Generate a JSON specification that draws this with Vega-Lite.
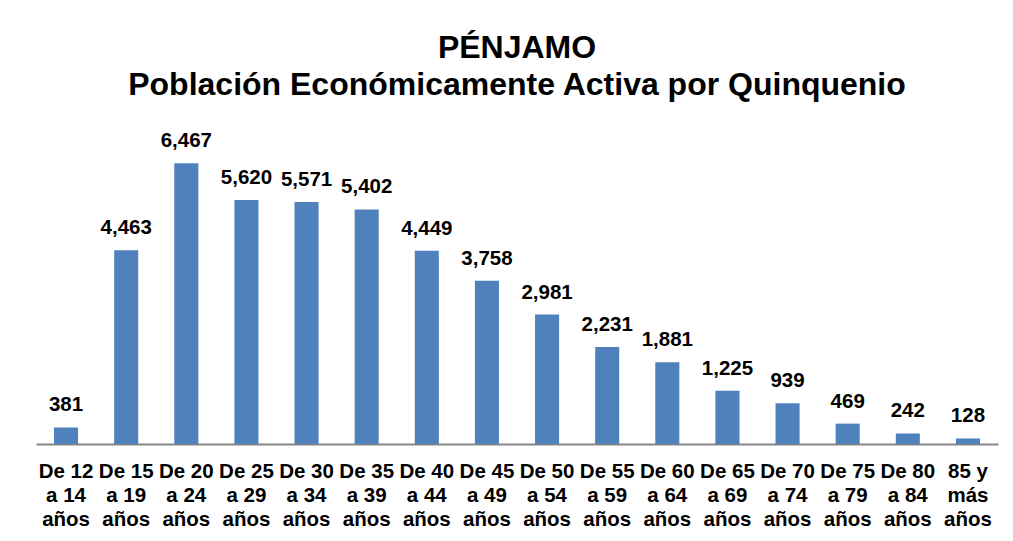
{
  "$schema": "https://vega.github.io/schema/vega-lite/v6.json",
  "autosize": "none",
  "width": 962,
  "height": 304,
  "padding": {"left": 36, "top": 140, "right": 15, "bottom": 97},
  "background": "white",
  "title": {
    "text": ["PÉNJAMO", "Población Económicamente Activa por Quinquenio"],
    "font": "Liberation Sans",
    "fontSize": 32,
    "fontWeight": "bold",
    "color": "#000000",
    "lineHeight": 37,
    "baseline": "alphabetic",
    "anchor": "middle",
    "offset": 4
  },
  "data": {
    "values": [
      {"grupo": "De 12\na 14\naños", "pea": 381},
      {"grupo": "De 15\na 19\naños", "pea": 4463},
      {"grupo": "De 20\na 24\naños", "pea": 6467},
      {"grupo": "De 25\na 29\naños", "pea": 5620},
      {"grupo": "De 30\na 34\naños", "pea": 5571},
      {"grupo": "De 35\na 39\naños", "pea": 5402},
      {"grupo": "De 40\na 44\naños", "pea": 4449},
      {"grupo": "De 45\na 49\naños", "pea": 3758},
      {"grupo": "De 50\na 54\naños", "pea": 2981},
      {"grupo": "De 55\na 59\naños", "pea": 2231},
      {"grupo": "De 60\na 64\naños", "pea": 1881},
      {"grupo": "De 65\na 69\naños", "pea": 1225},
      {"grupo": "De 70\na 74\naños", "pea": 939},
      {"grupo": "De 75\na 79\naños", "pea": 469},
      {"grupo": "De 80\na 84\naños", "pea": 242},
      {"grupo": "85 y\nmás\naños", "pea": 128}
    ]
  },
  "encoding": {
    "x": {
      "field": "grupo",
      "type": "nominal",
      "sort": null,
      "scale": {"paddingInner": 0.6, "paddingOuter": 0.3},
      "axis": {
        "title": null,
        "labelAngle": 0,
        "labelExpr": "split(datum.value, '\\n')",
        "labelFont": "Liberation Sans",
        "labelFontSize": 20.5,
        "labelFontWeight": "bold",
        "labelColor": "#000000",
        "labelLineHeight": 24,
        "labelPadding": 17,
        "labelBaseline": "top",
        "labelLimit": 0,
        "labelOverlap": false,
        "ticks": false,
        "grid": false,
        "domainColor": "#868686",
        "domainWidth": 2
      }
    },
    "y": {
      "field": "pea",
      "type": "quantitative",
      "scale": {"domain": [0, 7000]},
      "axis": null
    }
  },
  "layer": [
    {"mark": {"type": "bar", "color": "#4F81BD"}},
    {
      "mark": {
        "type": "text",
        "font": "Liberation Sans",
        "fontSize": 20.5,
        "fontWeight": "bold",
        "color": "#000000",
        "baseline": "alphabetic",
        "dy": -16
      },
      "encoding": {"text": {"field": "pea", "type": "quantitative", "format": ","}}
    }
  ],
  "config": {"view": {"stroke": null}}
}
